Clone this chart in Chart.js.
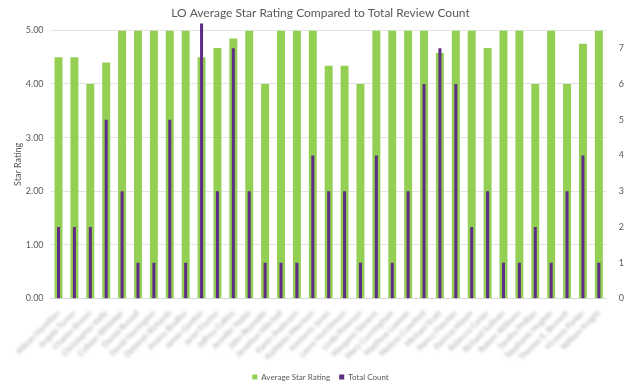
<!DOCTYPE html>
<html>
<head>
<meta charset="utf-8">
<script src="https://cdn.jsdelivr.net/npm/chart.js@4/dist/chart.umd.min.js"></script>
<style>
  html, body { margin: 0; padding: 0; background: #fff; }
  #wrap { width: 624px; height: 391px; }
</style>
</head>
<body>
<div id="wrap"><canvas id="lo-chart"></canvas></div>
<script>
// names on the x axis are blurred in the source, so these are stand-ins
const reviewers = [
  'Allison Hamilton', 'Angela Turner', 'Charles Brown', 'Christopher Kelly', 'Colleen Whitaker',
  'Daniel Russell', 'David Harrington', 'Deborah Richards', 'Jessica Bradley', 'James Gordon',
  'Janet Fischer', 'Jeffrey Collins', 'Jennifer Nolan', 'John Reynolds', 'Jonathan Mitchell',
  'Karen Anderson', 'Kathleen Morrison', 'Kimberly Jones', 'Laura Hutchinson', 'Linda Peterson',
  'Margaret Stevens', 'Mary Cunningham', 'Matthew Lawson', 'Melissa Crawford', 'Michael Scott',
  'Nancy Fletcher', 'Patricia Moore', 'Rebecca Carter', 'Richard Sullivan', 'Robert Williams',
  'Sandra Phillips', 'Stephanie Hughes', 'Thomas E. Bennett', 'Victoria Parker', 'William Knight'
];
const avgStarRating = [
  4.5, 4.5, 4.0, 4.4, 5.0, 5.0, 5.0, 5.0, 5.0, 4.5,
  4.67, 4.85, 5.0, 4.0, 5.0, 5.0, 5.0, 4.34, 4.34, 4.0,
  5.0, 5.0, 5.0, 5.0, 4.58, 5.0, 5.0, 4.67, 5.0, 5.0,
  4.0, 5.0, 4.0, 4.75, 5.0
];
const totalCount = [
  2, 2, 2, 5, 3, 1, 1, 5, 1, 8,
  3, 7, 3, 1, 1, 1, 4, 3, 3, 1,
  4, 1, 3, 6, 7, 6, 2, 3, 1, 1,
  2, 1, 3, 4, 1
];

const green = '#92cf52';
const purple = '#5f2d86';
const textGray = '#595959';
const fontFamily = 'Lato, "Open Sans", sans-serif';

// category axis that draws its labels blurred, like the source picture
class BlurCategoryScale extends Chart.CategoryScale {
  drawLabels(area) {
    const ctx = this.ctx;
    ctx.save();
    ctx.filter = 'blur(1.4px)';
    super.drawLabels(area);
    ctx.restore();
  }
}
BlurCategoryScale.id = 'blurcategory';
BlurCategoryScale.defaults = Chart.CategoryScale.defaults;
Chart.register(BlurCategoryScale);

Chart.defaults.font.family = fontFamily;
Chart.defaults.color = textGray;

const data = {
  labels: reviewers,
  datasets: [{
    label: 'Average Star Rating',
    data: avgStarRating,
    backgroundColor: green,
    yAxisID: 'y',
    grouped: false,
    categoryPercentage: 1,
    barPercentage: 0.5,
    order: 2
  }, {
    label: 'Total Count',
    data: totalCount,
    backgroundColor: purple,
    yAxisID: 'y2',
    grouped: false,
    categoryPercentage: 1,
    barPercentage: 0.19,
    order: 1,
    clip: { left: 0, top: 7, right: 0, bottom: 0 }
  }]
};

const config = {
  type: 'bar',
  data: data,
  options: {
    responsive: true,
    maintainAspectRatio: false,
    animation: false,
    layout: { padding: { top: 3, left: 13, right: -4, bottom: 0 } },
    plugins: {
      title: {
        display: true,
        text: 'LO Average Star Rating Compared to Total Review Count',
        color: textGray,
        font: { size: 12, weight: 'normal' },
        padding: { top: 3, bottom: 10 }
      },
      legend: {
        position: 'bottom',
        labels: {
          boxWidth: 5,
          boxHeight: 5,
          padding: 9,
          color: textGray,
          font: { size: 8 },
          sort: (a, b) => a.datasetIndex - b.datasetIndex
        }
      },
      tooltip: { enabled: false }
    },
    scales: {
      x: {
        type: 'blurcategory',
        grid: { display: false },
        border: { color: '#d9d9d9' },
        ticks: {
          autoSkip: false,
          minRotation: 45,
          maxRotation: 45,
          color: '#a6a6a6',
          font: { size: 8 },
          padding: 2
        }
      },
      y: {
        position: 'left',
        min: 0,
        max: 5,
        grid: { color: '#e3e3e3', drawTicks: false },
        border: { display: false },
        ticks: {
          stepSize: 1,
          padding: 7,
          font: { size: 9 },
          callback: v => v.toFixed(2)
        },
        title: {
          display: true,
          text: 'Star Rating',
          font: { size: 9 },
          padding: { top: 0, bottom: -5 }
        }
      },
      y2: {
        position: 'right',
        min: 0,
        max: 7.5,
        grid: { display: false },
        border: { display: false },
        ticks: {
          stepSize: 1,
          padding: 4,
          font: { size: 9 },
          callback: v => Number.isInteger(v) ? v : ''
        }
      }
    }
  }
};

const chart = new Chart(document.getElementById('lo-chart').getContext('2d'), config);
</script>
</body>
</html>
